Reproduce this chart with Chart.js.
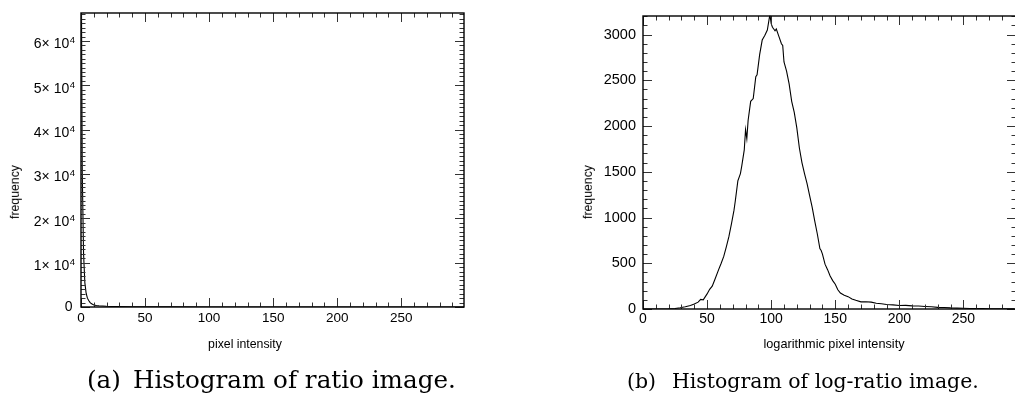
<!DOCTYPE html>
<html><head><meta charset="utf-8">
<script src="https://cdn.jsdelivr.net/npm/chart.js@4.4.1/dist/chart.umd.min.js"></script>
<style>
html,body{margin:0;padding:0;background:#fff;width:1015px;height:396px;overflow:hidden;}
#wrap{position:relative;width:1015px;height:396px;overflow:hidden;}
.cv{position:absolute;top:0;}
.lbl{position:absolute;font-family:"Liberation Sans",Arial,sans-serif;color:#000;white-space:nowrap;line-height:1;}
.cap{position:absolute;font-family:"DejaVu Serif",serif;color:#000;white-space:nowrap;line-height:1;}
</style></head><body>
<div id="wrap">
<canvas id="c1" class="cv" style="left:0" width="507" height="396"></canvas>
<canvas id="c2" class="cv" style="left:507px" width="509" height="396"></canvas>
<div class="lbl" id="xt1" style="font-size:12.3px;left:245px;top:344px;transform:translate(-50%,-50%)">pixel intensity</div>
<div class="lbl" id="yt1" style="font-size:12.3px;left:15px;top:192px;transform:translate(-50%,-50%) rotate(-90deg)">frequency</div>
<div class="lbl" id="xt2" style="font-size:12.7px;left:834px;top:344px;transform:translate(-50%,-50%)">logarithmic pixel intensity</div>
<div class="lbl" id="yt2" style="font-size:12.3px;left:588px;top:192px;transform:translate(-50%,-50%) rotate(-90deg)">frequency</div>
<div class="cap" id="cap1"><span class="pre">(a)</span><span class="txt">Histogram of ratio image.</span></div>
<div class="cap" id="cap2"><span class="pre">(b)</span><span class="txt">Histogram of log-ratio image.</span></div>
</div>
<script>
// ---- data ----
const ratioIntensity = [0, 1, 2, 3, 4, 5, 6, 7, 8, 9, 10, 12, 14, 17, 20, 25, 30, 40, 50, 70, 100, 150, 200, 250, 299];
const ratioFreq = [90000, 30000, 12000, 5500, 3100, 2000, 1450, 1050, 780, 600, 470, 340, 270, 210, 160, 110, 80, 50, 35, 20, 10, 5, 2, 1, 0];

const logIntensity = [0, 10, 20, 25, 29, 33, 37, 40, 43, 45, 47, 50, 52, 54, 56, 59, 61, 63, 65, 67, 69, 71, 72, 74, 76, 77, 79, 80, 81, 82, 84, 86, 88, 89, 91, 93, 95, 97, 99, 100, 101, 102, 103, 104, 106, 108, 109, 110, 112, 114, 116, 118, 120, 122, 124, 126, 128, 130, 132, 134, 136, 138, 139, 140, 142, 144, 146, 148, 150, 152, 154, 157, 160, 163, 166, 170, 174, 178, 182, 186, 190, 195, 200, 205, 210, 215, 220, 225, 230, 235, 240, 245, 250, 255, 260, 265, 270, 275, 280, 285, 290];
const logFreq = [0, 0, 2, 6, 14, 25, 38, 55, 75, 105, 100, 165, 215, 250, 320, 430, 500, 575, 680, 790, 930, 1080, 1180, 1400, 1480, 1560, 1740, 1960, 1860, 2060, 2270, 2300, 2540, 2560, 2780, 2940, 2990, 3050, 3220, 3120, 3080, 3060, 3040, 3060, 2980, 2900, 2880, 2700, 2600, 2460, 2270, 2150, 1980, 1760, 1600, 1480, 1370, 1240, 1110, 960, 820, 660, 640, 600, 490, 430, 360, 310, 270, 210, 175, 150, 135, 110, 95, 78, 80, 75, 62, 58, 50, 45, 38, 40, 34, 33, 28, 24, 18, 16, 12, 10, 8, 6, 5, 4, 3, 2, 2, 1, 1];

const ratioXTicks = [0, 50, 100, 150, 200, 250];
const ratioYTickMantissa = [0, 1, 2, 3, 4, 5, 6];   // × 10^4
const ratioYExponent = 4;
const logXTicks = [0, 50, 100, 150, 200, 250];
const logYTicks = [0, 500, 1000, 1500, 2000, 2500, 3000];

// ---- frame + inward ticks on all four sides ----
const frameTicks = {
  id: 'frameTicks',
  afterDatasetsDraw(chart, args, o) {
    const {ctx, chartArea: a, scales: {x, y}} = chart;
    ctx.save();
    ctx.strokeStyle = o.tickColor; ctx.lineWidth = 1;
    const L = Math.round(a.left), R = Math.round(a.right), T = Math.round(a.top), B = Math.round(a.bottom);
    ctx.beginPath();
    for (let v = x.min; v <= x.max + 1e-9; v += o.xMinor) {
      const p = Math.round(x.getPixelForValue(v)) + 0.5;
      const len = (Math.abs(v % o.xMajor) < 1e-9) ? o.majLen : o.minLen;
      ctx.moveTo(p, B); ctx.lineTo(p, B - len);
      ctx.moveTo(p, T); ctx.lineTo(p, T + len);
    }
    for (let v = y.min; v <= y.max + 1e-9; v += o.yMinor) {
      const p = Math.round(y.getPixelForValue(v)) + 0.5;
      const len = (Math.abs(v % o.yMajor) < 1e-9) ? o.majLen : o.minLen;
      ctx.moveTo(L, p); ctx.lineTo(L + len, p);
      ctx.moveTo(R, p); ctx.lineTo(R - len, p);
    }
    ctx.stroke();
    ctx.strokeStyle = '#000'; ctx.lineWidth = 1.4;
    ctx.strokeRect(L, T, R - L, B - T);
    ctx.restore();
  }
};

// ---- y labels with a superscript exponent (left chart) ----
const expLabels = {
  id: 'expLabels',
  afterDraw(chart, args, o) {
    if (!o.enabled) return;
    const {ctx, scales: {y}} = chart;
    ctx.save();
    ctx.fillStyle = '#000';
    y.ticks.forEach(t => {
      const py = y.getPixelForValue(t.value);
      const m = t.value / Math.pow(10, ratioYExponent);
      if (m === 0) {
        ctx.font = '14px "Liberation Sans", Arial, sans-serif';
        ctx.textAlign = 'right'; ctx.textBaseline = 'middle';
        ctx.fillText('0', o.right - 2.5, py);
      } else {
        ctx.font = '9.5px "Liberation Sans", Arial, sans-serif';
        ctx.textAlign = 'right'; ctx.textBaseline = 'alphabetic';
        const ew = ctx.measureText(String(ratioYExponent)).width;
        ctx.fillText(String(ratioYExponent), o.right, py + 2.5);
        ctx.font = '14px "Liberation Sans", Arial, sans-serif';
        ctx.fillText(m + '\u00d7 10', o.right - ew - 0.5, py + 7.5);
      }
    });
    ctx.restore();
  }
};

const baseFont = {family: '"Liberation Sans", Arial, sans-serif'};

function makeChart(el, xs, ys, cfg) {
  return new Chart(el, {
    type: 'line',
    data: {datasets: [{data: xs.map((v, i) => ({x: v, y: ys[i]})), borderColor: '#000', borderWidth: 1.1, pointRadius: 0, tension: 0, fill: false}]},
    options: {
      responsive: false, animation: false, devicePixelRatio: 1,
      layout: {padding: cfg.padding},
      plugins: {legend: {display: false}, tooltip: {enabled: false}, title: {display: false},
        frameTicks: cfg.frame, expLabels: {enabled: !!cfg.exp, right: cfg.expRight}},
      scales: {
        x: {type: 'linear', min: 0, max: cfg.xMax,
          grid: {display: false, drawTicks: false, tickLength: 0}, border: {display: false},
          afterBuildTicks: s => { s.ticks = cfg.xTicks.map(v => ({value: v})); },
          ticks: {padding: cfg.xPad, color: '#000', maxRotation: 0, autoSkip: false,
            font: Object.assign({size: cfg.xFont}, baseFont), callback: v => String(v)},
          afterFit: s => { s.height = cfg.xH; }},
        y: {type: 'linear', min: 0, max: cfg.yMax,
          grid: {display: false, drawTicks: false, tickLength: 0}, border: {display: false},
          afterBuildTicks: s => { s.ticks = cfg.yTicks.map(v => ({value: v})); },
          ticks: {display: !cfg.exp, padding: cfg.yPad, color: '#000', autoSkip: false,
            font: Object.assign({size: cfg.yFont}, baseFont), callback: v => String(v)},
          afterFit: s => { s.width = cfg.yW; }}
      }
    },
    plugins: [frameTicks, expLabels]
  });
}

makeChart(document.getElementById('c1'), ratioIntensity, ratioFreq, {
  padding: {top: 13, right: 43, left: 0, bottom: 0},
  xMax: 299, yMax: 66300, xTicks: ratioXTicks,
  yTicks: ratioYTickMantissa.map(m => m * Math.pow(10, ratioYExponent)),
  xPad: 3, yPad: 9, xFont: 13.5, yFont: 14, xH: 89, yW: 81, exp: true, expRight: 75,
  frame: {xMinor: 10, xMajor: 50, yMinor: 1000, yMajor: 10000, majLen: 9, minLen: 4.5, tickColor: '#333'}
});
makeChart(document.getElementById('c2'), logIntensity, logFreq, {
  padding: {top: 15, right: 0, left: 0, bottom: 0},
  xMax: 291, yMax: 3206, xTicks: logXTicks, yTicks: logYTicks,
  xPad: 2, yPad: 7, xFont: 14, yFont: 14.5, xH: 87, yW: 136, exp: false,
  frame: {xMinor: 10, xMajor: 50, yMinor: 100, yMajor: 500, majLen: 9, minLen: 4.5, tickColor: '#333'}
});

// ---- captions: fit to measured extents ----
function placeCaption(id, left, txtLeft, txtRight, baseline) {
  const el = document.getElementById(id);
  const pre = el.querySelector('.pre'), txt = el.querySelector('.txt');
  pre.style.display = 'inline-block';
  txt.style.display = 'inline-block';
  el.style.fontSize = '100px';
  const w = txt.getBoundingClientRect().width;
  const fs = 100 * (txtRight - txtLeft) / w;
  el.style.fontSize = fs + 'px';
  const pw = pre.getBoundingClientRect().width;
  pre.style.marginRight = Math.max(0, (txtLeft - left) - pw) + 'px';
  el.style.left = left + 'px';
  const probe = document.createElement('span');
  probe.style.cssText = 'display:inline-block;width:0;height:0;vertical-align:baseline;';
  el.appendChild(probe);
  el.style.top = '0px';
  const b = probe.getBoundingClientRect().top - el.getBoundingClientRect().top;
  el.style.top = (baseline - b) + 'px';
}
placeCaption('cap1', 87, 133, 456, 388);
placeCaption('cap2', 627, 672, 979, 388);
</script>
</body></html>
